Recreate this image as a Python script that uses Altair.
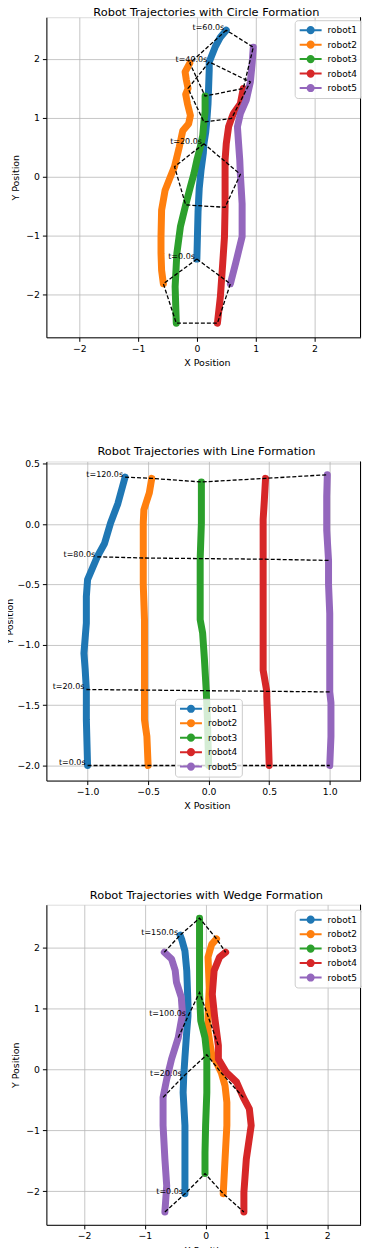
import altair as alt
import pandas as pd

FONT = "DejaVu Sans"
ROBOTS = ["robot1", "robot2", "robot3", "robot4", "robot5"]
COLORS = ["#1f77b4", "#ff7f0e", "#2ca02c", "#d62728", "#9467bd"]

# ---------------- Circle formation ----------------
CIRCLE_X = [
    [0.00, 0.01, 0.02, 0.04, 0.07, 0.11, 0.12, 0.15, 0.17, 0.19, 0.20, 0.21, 0.21, 0.31, 0.40, 0.50],
    [-0.57, -0.60, -0.61, -0.61, -0.60, -0.54, -0.45, -0.38, -0.30, -0.24, -0.14, -0.11, -0.16, -0.19, -0.15, -0.18, -0.20, -0.12],
    [-0.35, -0.37, -0.34, -0.28, -0.19, -0.11, -0.05, 0.00, 0.06, 0.10, 0.12, 0.14, 0.14],
    [0.35, 0.40, 0.44, 0.47, 0.48, 0.48, 0.48, 0.50, 0.54, 0.59, 0.62, 0.74, 0.79],
    [0.57, 0.66, 0.77, 0.77, 0.74, 0.73, 0.71, 0.69, 0.74, 0.84, 0.91, 0.94, 0.96],
]
CIRCLE_Y = [
    [-1.40, -1.00, -0.60, -0.20, 0.10, 0.40, 0.56, 0.75, 0.96, 1.24, 1.52, 1.81, 1.95, 2.20, 2.37, 2.49],
    [-1.82, -1.59, -1.30, -1.02, -0.57, -0.23, 0.00, 0.17, 0.50, 0.78, 0.90, 1.04, 1.24, 1.40, 1.50, 1.65, 1.78, 1.93],
    [-2.49, -1.87, -1.30, -0.85, -0.48, -0.17, 0.05, 0.28, 0.51, 0.70, 0.93, 1.10, 1.37],
    [-2.49, -2.04, -1.47, -1.02, -0.52, 0.00, 0.28, 0.56, 0.85, 0.99, 1.07, 1.24, 1.50],
    [-1.82, -1.47, -1.02, -0.46, 0.04, 0.28, 0.56, 0.85, 1.07, 1.30, 1.61, 1.92, 2.20],
]
CIRCLE_TIMES = ["t=0.0s", "t=20.0s", "t=40.0s", "t=60.0s"]
CIRCLE_FX = [
    [0.00, -0.57, -0.35, 0.35, 0.57],
    [0.12, -0.38, -0.19, 0.48, 0.74],
    [0.21, -0.15, 0.12, 0.59, 0.91],
    [0.50, -0.12, 0.14, 0.79, 0.96],
]
CIRCLE_FY = [
    [-1.40, -1.82, -2.49, -2.49, -1.82],
    [0.56, 0.17, -0.48, -0.52, 0.04],
    [1.95, 1.50, 0.93, 0.99, 1.61],
    [2.49, 1.93, 1.37, 1.50, 2.20],
]
CIRCLE_ORDER = [0, 1, 2, 3, 4, 0]

# ---------------- Line formation ----------------
LINE_X = [
    [-1.00, -1.01, -1.01, -1.02, -1.03, -1.01, -1.01, -1.00, -0.92, -0.86, -0.81, -0.75, -0.69],
    [-0.50, -0.51, -0.53, -0.53, -0.53, -0.53, -0.54, -0.54, -0.54, -0.535, -0.49, -0.47],
    [0.00, -0.01, -0.02, -0.035, -0.05, -0.07, -0.07, -0.07, -0.06, -0.06, -0.06],
    [0.50, 0.49, 0.48, 0.48, 0.45, 0.45, 0.45, 0.45, 0.45, 0.46, 0.47],
    [1.00, 1.01, 1.01, 1.00, 1.00, 1.00, 0.99, 0.99, 0.975, 0.975, 0.98],
]
LINE_Y = [
    [-2.00, -1.62, -1.37, -1.20, -1.07, -0.82, -0.60, -0.46, -0.27, -0.16, 0.01, 0.17, 0.39],
    [-2.00, -1.76, -1.62, -1.375, -1.07, -0.79, -0.50, -0.28, 0.01, 0.12, 0.26, 0.38],
    [-2.00, -1.62, -1.38, -1.12, -0.90, -0.79, -0.50, -0.285, 0.01, 0.20, 0.35],
    [-2.00, -1.68, -1.43, -1.385, -1.21, -0.93, -0.60, -0.29, 0.04, 0.20, 0.38],
    [-2.00, -1.76, -1.48, -1.39, -1.07, -0.74, -0.50, -0.30, -0.05, 0.23, 0.41],
]
LINE_TIMES = ["t=0.0s", "t=20.0s", "t=80.0s", "t=120.0s"]
LINE_FX = [
    [-1.00, -0.50, 0.00, 0.50, 1.00],
    [-1.01, -0.53, -0.02, 0.48, 1.00],
    [-0.92, -0.54, -0.07, 0.45, 0.99],
    [-0.69, -0.47, -0.06, 0.47, 0.98],
]
LINE_FY = [
    [-2.00, -2.00, -2.00, -2.00, -2.00],
    [-1.37, -1.375, -1.38, -1.385, -1.39],
    [-0.27, -0.28, -0.285, -0.29, -0.30],
    [0.39, 0.38, 0.35, 0.38, 0.41],
]
LINE_ORDER = [0, 1, 2, 3, 4]

# ---------------- Wedge formation ----------------
WEDGE_X = [
    [-0.34, -0.34, -0.34, -0.37, -0.36, -0.34, -0.31, -0.29, -0.29, -0.31, -0.34, -0.39, -0.42],
    [0.29, 0.32, 0.35, 0.35, 0.32, 0.26, 0.15, 0.10, 0.04, 0.04, 0.06, 0.04, 0.10, 0.18],
    [-0.01, -0.01, 0.00, 0.02, 0.02, -0.01, -0.08, -0.10, -0.10, -0.10],
    [0.63, 0.63, 0.67, 0.75, 0.72, 0.62, 0.51, 0.34, 0.21, 0.21, 0.15, 0.11, 0.14, 0.23, 0.33],
    [-0.67, -0.64, -0.67, -0.70, -0.70, -0.64, -0.56, -0.45, -0.38, -0.40, -0.48, -0.50, -0.56, -0.68],
]
WEDGE_Y = [
    [-2.04, -1.47, -0.92, -0.38, -0.11, 0.20, 0.63, 0.87, 1.07, 1.62, 1.94, 2.12, 2.20],
    [-2.04, -1.47, -0.92, -0.54, -0.27, -0.06, 0.17, 0.25, 0.63, 0.87, 1.34, 1.84, 2.05, 2.14],
    [-1.71, -1.36, -0.92, -0.38, 0.24, 0.52, 0.80, 1.26, 1.89, 2.48],
    [-2.34, -2.02, -1.47, -0.92, -0.65, -0.46, -0.21, -0.05, 0.17, 0.39, 0.85, 1.23, 1.62, 1.84, 1.92],
    [-2.34, -1.91, -1.47, -0.92, -0.46, -0.16, 0.17, 0.52, 0.91, 1.18, 1.43, 1.62, 1.81, 1.92],
]
WEDGE_TIMES = ["t=0.0s", "t=20.0s", "t=100.0s", "t=150.0s"]
WEDGE_FX = [
    [-0.34, 0.29, -0.01, 0.63, -0.67],
    [-0.36, 0.26, 0.02, 0.62, -0.70],
    [-0.29, 0.04, -0.10, 0.21, -0.45],
    [-0.42, 0.18, -0.10, 0.33, -0.68],
]
WEDGE_FY = [
    [-2.04, -2.04, -1.71, -2.34, -2.34],
    [-0.11, -0.06, 0.24, -0.46, -0.46],
    [0.87, 0.87, 1.26, 0.39, 0.52],
    [2.20, 2.14, 2.48, 1.92, 1.92],
]
WEDGE_ORDER = [4, 0, 2, 1, 3]

W = 315
LEGEND_SYMBOL = ("M-1,0L1,0"
                 "M0.28,0A0.28,0.28,0,1,1,-0.28,0A0.28,0.28,0,1,1,0.28,0"
                 "M0.16,0A0.16,0.16,0,1,1,-0.16,0A0.16,0.16,0,1,1,0.16,0"
                 "M0.05,0A0.05,0.05,0,1,1,-0.05,0A0.05,0.05,0,1,1,0.05,0")


def panel(title, tx, ty, times, fx, fy, order, xdom, ydom, xticks, yticks, fmt, h,
          legend_kw, title_offset, ytitle_pad):
    rows = []
    for r, name in enumerate(ROBOTS):
        for i, (x, y) in enumerate(zip(tx[r], ty[r])):
            rows.append({"robot": name, "i": i, "x": x, "y": y})
    traj = pd.DataFrame(rows)

    frows, lrows = [], []
    for k, t in enumerate(times):
        for i, r in enumerate(order):
            frows.append({"f": t, "i": i, "x": fx[k][r], "y": fy[k][r]})
        lrows.append({"label": t, "x": fx[k][0], "y": fy[k][0]})
    forms = pd.DataFrame(frows)
    labels = pd.DataFrame(lrows)

    common_axis = dict(grid=True, gridColor="#b8b8b8", gridWidth=0.8,
                       domainColor="black", domainWidth=1, tickColor="black", tickSize=4,
                       labelPadding=3, labelFontSize=9.3, labelFont=FONT, labelColor="black",
                       titleFontSize=9.5, titleFont=FONT, titleFontWeight="normal",
                       titleColor="black")
    xs = alt.X("x:Q", scale=alt.Scale(domain=xdom, nice=False, zero=False),
               axis=alt.Axis(values=xticks, format=fmt, title="X Position", titlePadding=4,
                             titleX=161, **common_axis))
    ys = alt.Y("y:Q", scale=alt.Scale(domain=ydom, nice=False, zero=False),
               axis=alt.Axis(values=yticks, format=fmt, title="Y Position",
                             titlePadding=ytitle_pad, **common_axis))

    legend = alt.Legend(title=None, symbolType=LEGEND_SYMBOL, symbolSize=484,
                        symbolStrokeWidth=2, clipHeight=12, rowPadding=2.5,
                        labelFontSize=9, labelFont=FONT, labelColor="black", labelOffset=5,
                        padding=4, strokeColor="#cccccc", fillColor="rgba(255,255,255,0.8)",
                        cornerRadius=3, orient="none", **legend_kw)

    lines = alt.Chart(traj).mark_line(strokeWidth=7, strokeCap="round", strokeJoin="round").encode(
        x=xs, y=ys,
        color=alt.Color("robot:N", scale=alt.Scale(domain=ROBOTS, range=COLORS), legend=legend),
        order="i:Q",
    )
    dashed = alt.Chart(forms).mark_line(color="black", strokeWidth=1.3, strokeDash=[4, 2]).encode(
        x="x:Q", y="y:Q", detail="f:N", order="i:Q"
    )
    text = alt.Chart(labels).mark_text(align="right", baseline="alphabetic", dx=-2,
                                       fontSize=8, font=FONT, color="black").encode(
        x="x:Q", y="y:Q", text="label:N"
    )
    spine = alt.Chart(pd.DataFrame({"a": [0]})).mark_rule(color="black", strokeWidth=1).encode(
        x=alt.value(W), y=alt.value(0), y2=alt.value(h)
    )
    return alt.layer(lines, dashed, text, spine).properties(
        width=W, height=h,
        title=alt.TitleParams(title, fontSize=11.4, font=FONT, fontWeight="normal",
                              color="black", offset=title_offset, dx=3),
    )


p1 = panel("Robot Trajectories with Circle Formation", CIRCLE_X, CIRCLE_Y, CIRCLE_TIMES,
           CIRCLE_FX, CIRCLE_FY, CIRCLE_ORDER, [-2.56, 2.784], [-2.73, 2.71],
           [-2, -1, 0, 1, 2], [-2, -1, 0, 1, 2], "d", 321,
           dict(legendX=249, legendY=3), -2, 5)
p2 = panel("Robot Trajectories with Line Formation", LINE_X, LINE_Y, LINE_TIMES,
           LINE_FX, LINE_FY, LINE_ORDER, [-1.34, 1.254], [-2.125, 0.52],
           [-1.0, -0.5, 0.0, 0.5, 1.0], [-2.0, -1.5, -1.0, -0.5, 0.0, 0.5], ".1f", 320,
           dict(legendX=129, legendY=238), 3, 2)
p3 = panel("Robot Trajectories with Wedge Formation", WEDGE_X, WEDGE_Y, WEDGE_TIMES,
           WEDGE_FX, WEDGE_FY, WEDGE_ORDER, [-2.62, 2.549], [-2.55, 2.70],
           [-2, -1, 0, 1, 2], [-2, -1, 0, 1, 2], "d", 321,
           dict(legendX=249, legendY=5), 3, 5)

chart = alt.vconcat(p1, p2, p3, spacing=124.5, bounds="flush").resolve_scale(
    color="independent").resolve_legend(color="independent").properties(
    padding={"left": -4.5, "top": -3.5, "right": -0.5, "bottom": -10}
).configure_view(stroke="#dddddd", strokeWidth=1)

chart.save("out.html", embed_options={"renderer": "svg", "actions": False})
